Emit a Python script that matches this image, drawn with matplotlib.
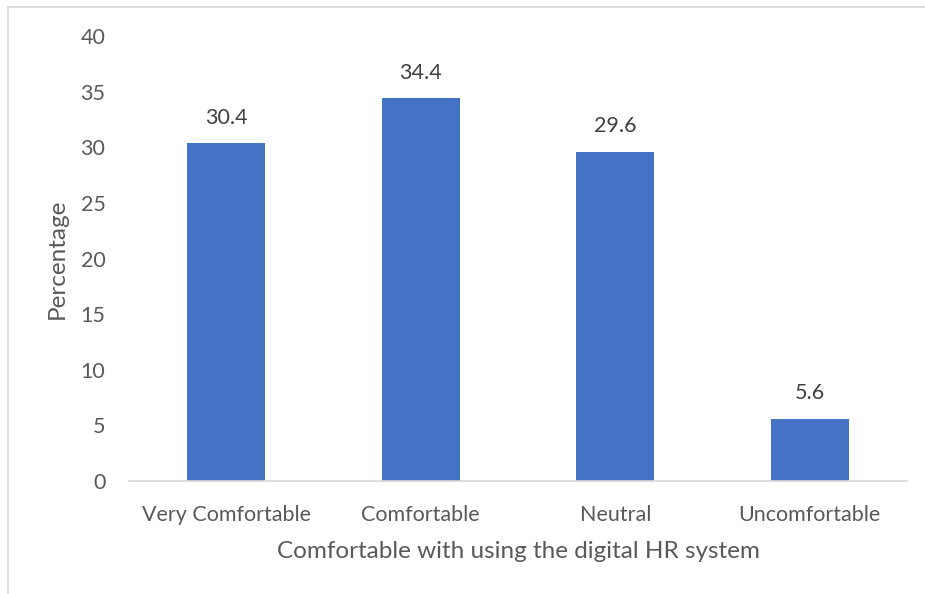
import matplotlib
matplotlib.use("Agg")
import matplotlib.pyplot as plt
from matplotlib.lines import Line2D

categories = ["Very Comfortable", "Comfortable", "Neutral", "Uncomfortable"]
values = [30.4, 34.4, 29.6, 5.6]
yticks = [0, 5, 10, 15, 20, 25, 30, 35, 40]

plt.rcParams['font.family'] = ['Lato', 'DejaVu Sans']
text_color = '#595959'
bar_color = '#4472C4'

fig = plt.figure(figsize=(9.25, 5.94), dpi=100)
ax = fig.add_axes([0.1395, 0.1902, 0.841, 0.7492])

x = list(range(len(categories)))
bars = ax.bar(x, values, width=0.4, color=bar_color, zorder=2)
for xi, v in zip(x, values):
    ax.annotate(f"{v}", (xi, v), xytext=(0, 11), textcoords='offset points',
                ha='center', va='bottom', fontsize=15.5, color='#404040')

ax.set_xlim(-0.5, len(categories) - 0.5)
ax.set_ylim(0, 40)
ax.set_yticks(yticks)
ax.set_yticklabels([str(t) for t in yticks])
ax.set_xticks(x)
ax.set_xticklabels(categories)
ax.tick_params(axis='both', length=0, labelsize=15.5, labelcolor=text_color)
ax.tick_params(axis='y', pad=17)
ax.tick_params(axis='x', pad=17)
for s in ['top', 'right', 'left']:
    ax.spines[s].set_visible(False)
ax.spines['bottom'].set_color('#D9D9D9')
ax.spines['bottom'].set_linewidth(1.2)

ax.set_xlabel("Comfortable with using the digital HR system", fontsize=17.5,
              color=text_color, labelpad=12)
ax.set_ylabel("Percentage", fontsize=17.5, color=text_color, labelpad=9)

# partial chart border (top and left visible)
fig.add_artist(Line2D([0.0086, 1.0], [0.988, 0.988], transform=fig.transFigure,
                      color='#D9D9D9', lw=1.2))
fig.add_artist(Line2D([0.0086, 0.0086], [0.0, 0.988], transform=fig.transFigure,
                      color='#D9D9D9', lw=1.2))

fig.savefig("out.png", dpi=100, facecolor='white')
